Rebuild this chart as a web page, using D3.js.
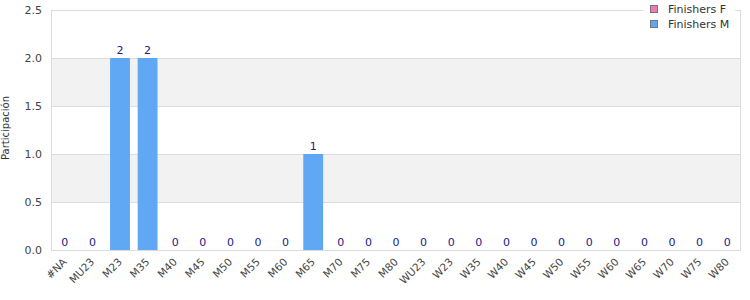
<!DOCTYPE html>
<html><head><meta charset="utf-8">
<script src="https://cdn.jsdelivr.net/npm/d3@7"></script>
<style>body{margin:0;background:#fff}svg{display:block;font-family:"DejaVu Sans",sans-serif}</style>
</head><body><svg id="c" width="750" height="300"></svg>
<script>
const categories = ["#NA","MU23","M23","M35","M40","M45","M50","M55","M60","M65","M70","M75","M80","WU23","W23","W35","W40","W45","W50","W55","W60","W65","W70","W75","W80"];
const finishersF = [0,0,0,0,0,0,0,0,0,0,0,0,0,0,0,0,0,0,0,0,0,0,0,0,0];
const finishersM = [0,0,2,2,0,0,0,0,0,1,0,0,0,0,0,0,0,0,0,0,0,0,0,0,0];
const yTicks = [0,0.5,1.0,1.5,2.0,2.5];
const seriesNames = ["Finishers F","Finishers M"];
const colors = ["#f07ab4","#60a8f4"];

const svg = d3.select("#c");
const m = {l:51, r:741, t:10, b:250};
const x = d3.scaleBand().domain(categories).range([m.l, m.r]).paddingInner(0.28).paddingOuter(0.14);
const y = d3.scaleLinear().domain([0,2.5]).range([m.b, m.t]);

for (let i=0;i<yTicks.length-1;i++){
  if (i%2===1) svg.append("rect").attr("x",m.l).attr("width",m.r-m.l)
    .attr("y",y(yTicks[i+1])).attr("height",y(yTicks[i])-y(yTicks[i+1])).attr("fill","#f2f2f2");
}
svg.append("g").selectAll("line").data(yTicks).join("line")
  .attr("x1",m.l).attr("x2",m.r).attr("y1",d=>Math.round(y(d))+0.5).attr("y2",d=>Math.round(y(d))+0.5)
  .attr("stroke","#dcdcdc");
svg.append("rect").attr("x",m.l+0.5).attr("y",m.t+0.5).attr("width",m.r-m.l-1).attr("height",m.b-m.t)
  .attr("fill","none").attr("stroke","#dcdcdc");

const ya = svg.append("g").attr("transform",`translate(${m.l},0)`)
  .call(d3.axisLeft(y).tickValues(yTicks).tickFormat(d3.format(".1f")).tickSize(0).tickPadding(9));
ya.select(".domain").remove();
ya.selectAll("text").attr("fill","#444").style("font-size","11px").style("font-family","DejaVu Sans");

svg.append("text").attr("transform","translate(9,128) rotate(-90)").attr("text-anchor","middle")
  .attr("fill","#333").style("font-size","10px").text("Participación");

const xa = svg.append("g").attr("transform",`translate(0,${m.b})`)
  .call(d3.axisBottom(x).tickSize(0));
xa.select(".domain").remove();
xa.selectAll("text").attr("fill","#444").style("font-size","10.5px").style("font-family","DejaVu Sans")
  .attr("text-anchor","end").attr("x",0).attr("y",0).attr("dy","0.35em")
  .attr("transform","translate(0,10) rotate(-45)");

const rows = categories.map((c,i)=>({cat:c,F:finishersF[i],M:finishersM[i]}));
const stack = d3.stack().keys(["F","M"])(rows);
svg.append("g").selectAll("g").data(stack).join("g").attr("fill",(d,i)=>colors[i])
  .selectAll("rect").data(d=>d).join("rect")
  .attr("x",d=>x(d.data.cat)).attr("width",x.bandwidth())
  .attr("y",d=>y(d[1])).attr("height",d=>y(d[0])-y(d[1]));

svg.append("g").selectAll("text").data(rows).join("text")
  .attr("x",d=>x(d.cat)+x.bandwidth()/2).attr("y",d=>y(d.F+d.M)-4)
  .attr("text-anchor","middle").attr("fill","#1a1a8c").style("font-size","11px")
  .text(d=>d.F+d.M);

const lg = svg.append("g");
lg.append("rect").attr("x",643).attr("y",0).attr("width",92).attr("height",32).attr("fill","#fff");
seriesNames.forEach((n,i)=>{
  lg.append("rect").attr("x",650.5).attr("y",5.5+i*15).attr("width",7).attr("height",7)
    .attr("fill",colors[i]).attr("stroke","#777");
  lg.append("text").attr("x",668).attr("y",13+i*15).attr("fill","#333").style("font-size","11px").text(n);
});
</script></body></html>
